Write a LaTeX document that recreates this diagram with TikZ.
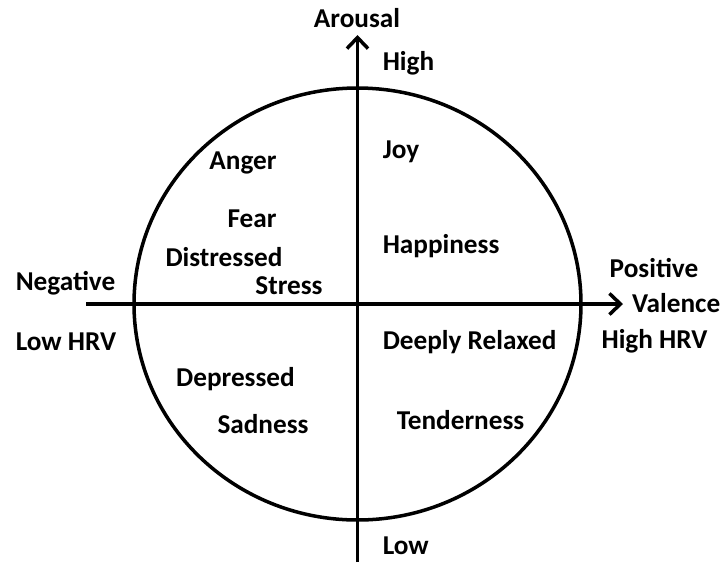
\documentclass[tikz,border=0pt]{standalone}
\usepackage{fontspec}
\setmainfont{Carlito}
\usepackage{tikz}
\usetikzlibrary{arrows.meta}

\begin{document}
\begin{tikzpicture}[x=0.02cm,y=-0.02cm,line width=2pt,
  every node/.style={font=\bfseries\fontsize{15.5}{17}\selectfont,inner sep=0pt},
  axis/.style={-{Straight Barb[length=0.22cm,width=0.42cm,line width=2pt]}}]
  \useasboundingbox (0,0) rectangle (724,562);
  \coordinate (o) at (357.5,304);
  \coordinate (west) at (86,304);
  \coordinate (east) at (623,304);
  \coordinate (south) at (357.5,562);
  \coordinate (north) at (357.5,35);
  \draw (o) ellipse [x radius=223.5,y radius=216];
  \draw[axis] (west) -- (east);
  \draw[axis] (south) -- (north);
  % axis labels
  \node (arousal) at (357,18) {Arousal};
  \node[anchor=west] (high) at (381,63) {High};
  \node[anchor=west] (low) at (381,546) {Low};
  \node[anchor=west] (neg) at (14,283) {Negative};
  \node[anchor=west] (lowhrv) at (14,342) {Low HRV};
  \node (pos) at (654,268) {Positive};
  \node[anchor=east] (valence) at (722,303) {Valence};
  \node (highhrv) at (654.5,341) {High HRV};
  % emotions
  \node (anger) at (243,163) {Anger};
  \node (fear) at (252,219) {Fear};
  \node (distressed) at (224,257) {Distressed};
  \node (stress) at (289,286) {Stress};
  \node[anchor=west] (joy) at (381,152) {Joy};
  \node[anchor=west] (happy) at (381,246) {Happiness};
  \node[anchor=west] (relaxed) at (381,342) {Deeply Relaxed};
  \node (tender) at (460.5,420) {Tenderness};
  \node (depressed) at (235.5,379) {Depressed};
  \node (sad) at (263,424) {Sadness};
\end{tikzpicture}
\end{document}
